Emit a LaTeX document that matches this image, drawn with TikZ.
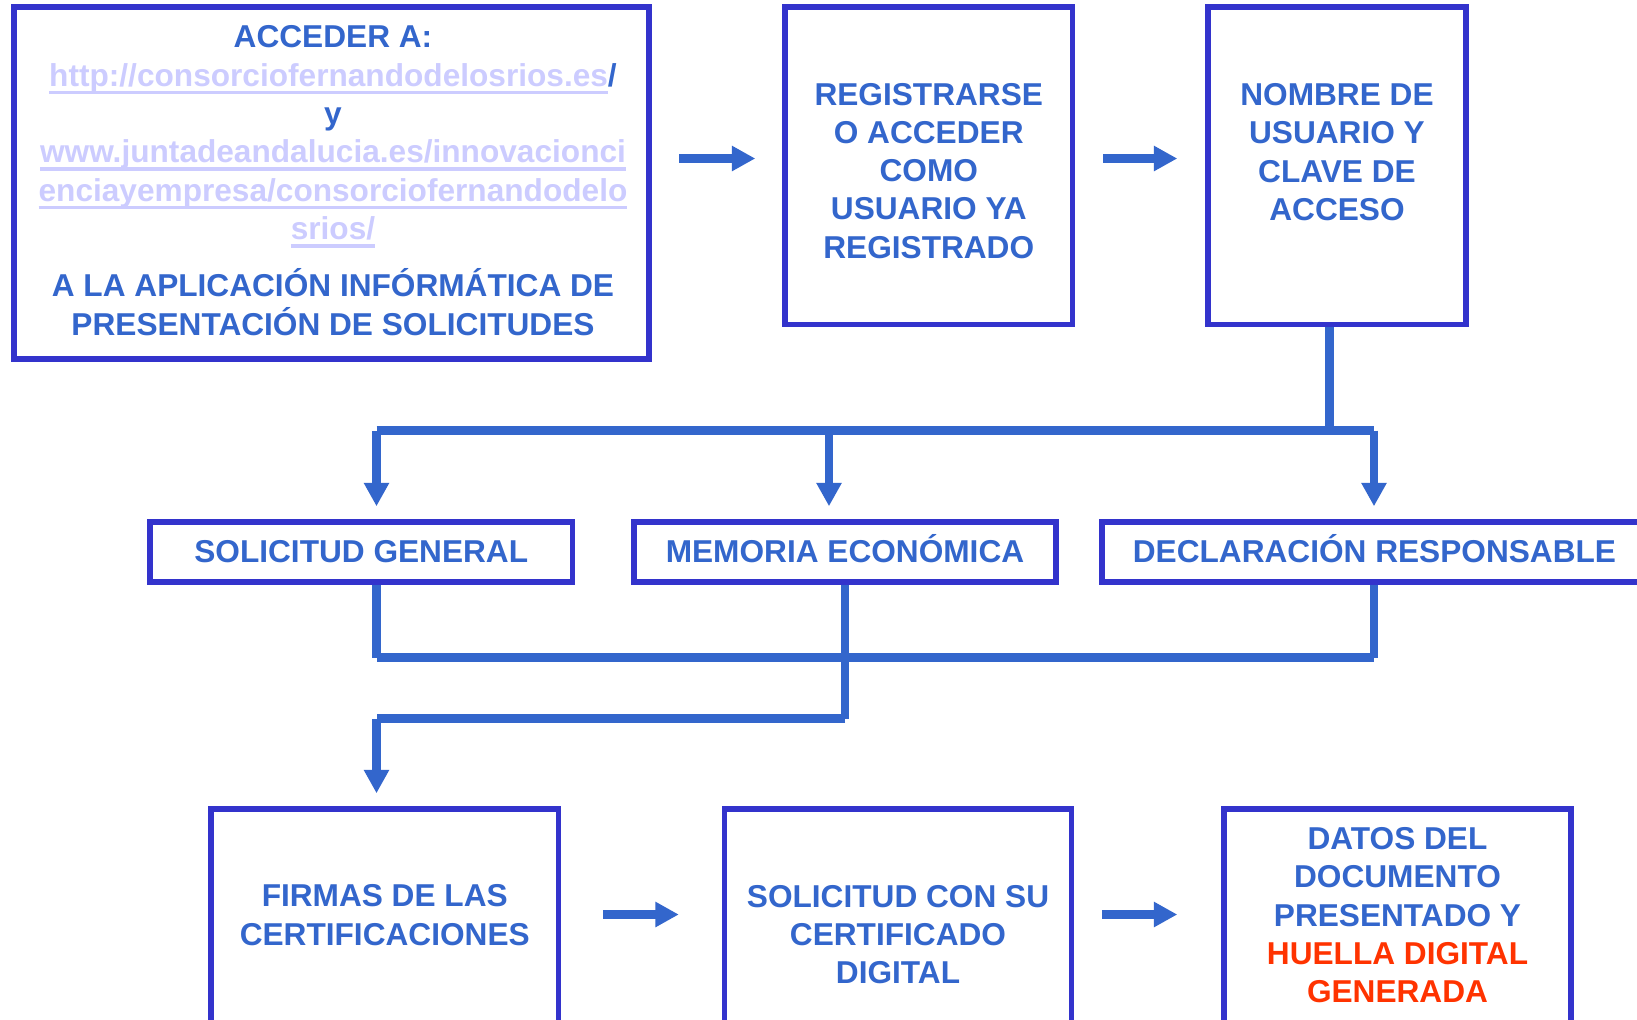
\documentclass[tikz,border=0pt]{standalone}
\usepackage{fontspec}
\setmainfont{Liberation Sans}
\usetikzlibrary{arrows.meta, calc}

\definecolor{frameblue}{RGB}{51,51,204}
\definecolor{flowblue}{RGB}{51,102,204}
\definecolor{linklilac}{RGB}{204,204,255}
\definecolor{printred}{RGB}{255,51,0}

\newsavebox{\linkbox}
\newcommand{\weblink}[1]{{\color{linklilac}\sbox{\linkbox}{#1}%
    \rlap{\rule[-4.6pt]{\wd\linkbox}{2pt}}\usebox{\linkbox}}}

\begin{document}
\begin{tikzpicture}[
    x = 0.02cm, y = -0.02cm,
    font = \fontsize{18}{21.8}\selectfont\bfseries,
    every node/.style = {text = flowblue},
    stepbox/.style = {draw = frameblue, line width = 0.11cm, fill = white, inner sep = 0pt},
    boxtext/.style = {align = center, inner sep = 0pt},
    link/.style = {draw = flowblue, line width = 0.17cm},
    flowarrow/.style = {link, -{Triangle[length = 0.47cm, width = 0.48cm]}}
    ]

    % Determines the boundries
    \useasboundingbox (0,0) rectangle (1637,1019);
    \fill[white] (0,0) rectangle (1637,1019);
    \clip (0,0) rectangle (1637,1019);

    \def\tallh{6.35cm}      % height of the upper boxes
    \def\flath{1.2cm}       % height of the middle boxes
    \def\lowh{4.42cm}       % height of the lower boxes

    % Upper row of boxes
    \node[stepbox, minimum width = 12.7cm, minimum height = 7.04cm] (access) at (331.5,183) {};
    \node[stepbox, minimum width = 5.75cm, minimum height = \tallh] (reg) at (928.75,165.75) {};
    \node[stepbox, minimum width = 5.16cm, minimum height = \tallh] (login) at (1337,165.75) {};

    % Middle row of boxes
    \node[stepbox, minimum width = 8.45cm, minimum height = \flath] (gen) at (361.25,552) {};
    \node[stepbox, minimum width = 8.44cm, minimum height = \flath] (memo) at (845,552) {};
    \node[stepbox, minimum width = 10.9cm, minimum height = \flath] (decl) at (1374.5,552) {};

    % Lower row of boxes
    \node[stepbox, minimum width = 6.95cm, minimum height = \lowh] (sign) at (384.75,919.5) {};
    \node[stepbox, minimum width = 6.94cm, minimum height = \lowh] (cert) at (898,919.5) {};
    \node[stepbox, minimum width = 6.94cm, minimum height = \lowh] (data) at (1397.5,919.5) {};

    % Texts of the boxes
    \node[boxtext] (accesstext) at (333,180.6)
        {ACCEDER A:\\
         \weblink{http://consorciofernandodelosrios.es}/\\
         y\\
         \weblink{www.juntadeandalucia.es/innovacionci}\\
         \weblink{enciayempresa/consorciofernandodelo}\\
         \weblink{srios/}\\[10.8pt]
         A LA APLICACIÓN INFÓRMÁTICA DE\\
         PRESENTACIÓN DE SOLICITUDES};
    \node[boxtext] (regtext) at (928.75,170.75)
        {REGISTRARSE\\ O ACCEDER\\ COMO\\ USUARIO YA\\ REGISTRADO};
    \node[boxtext] (logintext) at (1337,152)
        {NOMBRE DE\\ USUARIO Y\\ CLAVE DE\\ ACCESO};
    \node[boxtext, anchor = base] (gentext) at (361.25,562.5) {SOLICITUD GENERAL};
    \node[boxtext, anchor = base] (memotext) at (845,562.5) {MEMORIA ECONÓMICA};
    \node[boxtext, anchor = base] (decltext) at (1374.5,562.5) {DECLARACIÓN RESPONSABLE};
    \node[boxtext] (signtext) at (384.75,915)
        {FIRMAS DE LAS\\ CERTIFICACIONES};
    \node[boxtext] (certtext) at (898,934.5)
        {SOLICITUD CON SU\\ CERTIFICADO\\ DIGITAL};
    \node[boxtext] (datatext) at (1397.5,915.3)
        {DATOS DEL\\ DOCUMENTO\\ PRESENTADO Y\\
         \textcolor{printred}{HUELLA DIGITAL}\\ \textcolor{printred}{GENERADA}};

    % Rows of the side arrows
    \coordinate (upperrow) at (0,158.5);
    \coordinate (lowerrow) at (0,914.5);

    % Arrows from box to box
    \foreach \from/\to/\row/\s/\e in
        {access/reg/upperrow/0.55/0.54, reg/login/upperrow/0.56/0.56,
         sign/cert/lowerrow/0.84/0.86, cert/data/lowerrow/0.56/0.88}{
        \draw[flowarrow, shorten <= \s cm, shorten >= \e cm]
            (\from.east |- \row) -- (\to.west |- \row);
    }

    % Splitting into the three documents
    \coordinate (split)  at (1329.5,430.5);
    \coordinate (splitL) at (376.5,430.5);
    \coordinate (splitM) at (829,430.5);
    \coordinate (splitR) at (1374,430.5);

    \draw[link] (login.south -| split) -- (split);
    \draw[link] (splitL) -- (splitR);
    \foreach \c/\b in {splitL/gen, splitM/memo, splitR/decl}{
        \draw[flowarrow, shorten >= 0.26cm] (\c) -- (\c |- \b.north);
    }

    % Joining the documents again
    \coordinate (joinL) at (376.5,657.5);
    \coordinate (joinR) at (1374,657.5);
    \coordinate (joinB) at (845,718.5);
    \coordinate (turn)  at (376.5,718.5);

    \foreach \b/\c in {gen/joinL, decl/joinR}{
        \draw[link] (\b.south -| \c) -- (\c);
    }
    \draw[link] (memo.south) -- (joinB);
    \draw[link] (joinL) -- (joinR);
    \draw[link] (joinB) -- (turn);
    \draw[flowarrow, shorten >= 0.26cm] (turn) -- (turn |- sign.north);

\end{tikzpicture}
\end{document}
